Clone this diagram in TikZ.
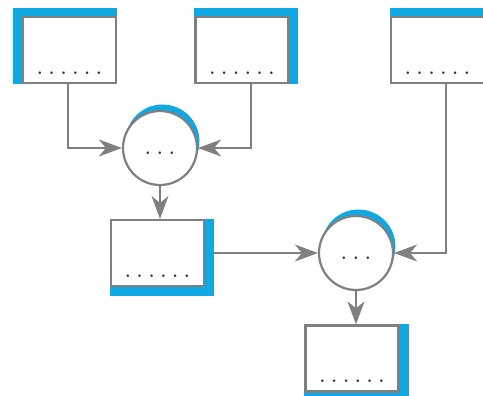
\documentclass[tikz,border=0pt]{standalone}
\usepackage{tikz}
\usetikzlibrary{arrows.meta,backgrounds,positioning,calc}
\definecolor{boxblue}{RGB}{16,168,226}
\definecolor{linegray}{RGB}{128,128,128}
\edef\boxwidth{93pt}
\edef\boxheight{66pt}
\tikzstyle{databox}=[draw=linegray,line width=2.2pt,fill=white,minimum width=\boxwidth,minimum height=\boxheight,inner sep=0pt]
\tikzstyle{opcircle}=[circle,draw=linegray,line width=2.2pt,fill=white,minimum size=74pt,inner sep=0pt]
\tikzstyle{flow}=[draw=linegray,line width=2.2pt,-{Stealth[length=23pt,width=17pt,inset=7pt]}]
\tikzstyle{dotrow}=[anchor=base,inner sep=0pt,text=black!80,font=\fontsize{18}{18}\selectfont\bfseries]
\newcommand{\sixdots}{\makebox[11.8pt]{.}\makebox[11.8pt]{.}\makebox[11.8pt]{.}\makebox[11.8pt]{.}\makebox[11.8pt]{.}\makebox[11.8pt]{.}}
\newcommand{\threedots}{\makebox[12pt]{.}\makebox[12pt]{.}\makebox[12pt]{.}}

\begin{document}
\begin{tikzpicture}[x=1pt,y=-1pt]
		\useasboundingbox (0,0) rectangle (483,396);
		% data boxes and operations
		\node[databox] (in1) at (69.5,50) {};
		\node[databox] (in2) at (242,50) {};
		\node[databox] (in3) at (437.5,50) {};
		\node[opcircle] (op1) at (160,148) {};
		\node[databox] (mid) at (157.5,253) {};
		\node[opcircle] (op2) at (356,253) {};
		\node[databox] (out) at (352,358.5) {};
		
		\foreach \b in {in1,in2,in3,mid,out}
			\node[dotrow] at ([yshift=10pt]\b.south) {\sixdots};
		\node[dotrow] at ([yshift=-7pt]op1.center) {\threedots};
		\node[dotrow] at ([yshift=-7pt]op2.center) {\threedots};
		
		% connectors
		\draw[flow] ([xshift=-1.5pt]in1.south) |- (op1.west);
		\draw[flow] ([xshift=9pt]in2.south) |- (op1.east);
		\draw[flow] (op1.south) -- (op1.south |- mid.north);
		\draw[flow] ([xshift=9pt]mid.east) -- (op2.west);
		\draw[flow] ([xshift=8.5pt]in3.south) |- (op2.east);
		\draw[flow] (op2.south) -- (op2.south |- out.north);
		
		% blue edges
		\begin{scope}[on background layer]
		\fill[boxblue] ([shift={(-9pt,8pt)}]in1.north west) rectangle (in1.south east);
		\fill[boxblue] ([yshift=8pt]in2.north west) rectangle ([xshift=8pt]in2.south east);
		\fill[boxblue] ([yshift=8pt]in3.north west) rectangle (in3.north east);
		\fill[boxblue] (mid.north west) rectangle ([shift={(9pt,-9pt)}]mid.south east);
		\fill[boxblue] (out.north west) rectangle ([shift={(9pt,-6pt)}]out.south east);
		\fill[boxblue] ([shift={(2.5pt,6.5pt)}]op1.center) circle (37pt);
		\fill[boxblue] ([shift={(2.5pt,6.5pt)}]op2.center) circle (37pt);
		\end{scope}
		\end{tikzpicture}
\end{document}
